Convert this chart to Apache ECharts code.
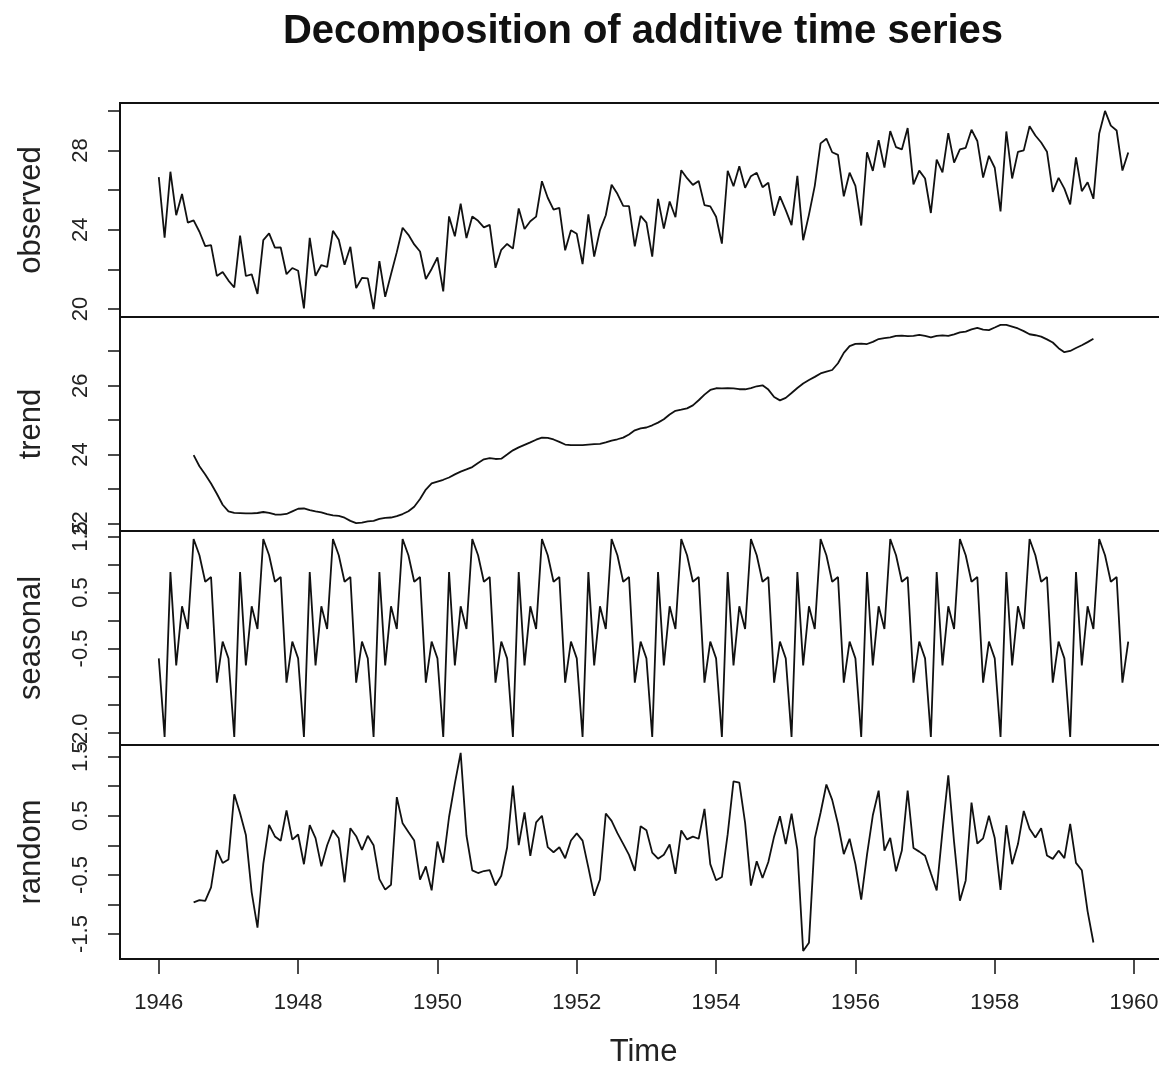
<!DOCTYPE html>
<html>
<head>
<meta charset="utf-8">
<script src="https://cdn.jsdelivr.net/npm/echarts@6/dist/echarts.min.js"></script>
<style>html,body{margin:0;padding:0;background:#fff;overflow:hidden}#c{width:1159px;height:1065px}</style>
</head>
<body>
<div id="c"></div>
<script>
// Monthly series, Jan 1946 .. Dec 1959
const startYear = 1946;
const frequency = 12;

const observed = [
26.663,23.598,26.931,24.740,25.806,24.364,24.477,23.901,23.175,23.227,21.672,21.870,
21.439,21.089,23.709,21.669,21.752,20.761,23.479,23.824,23.105,23.110,21.759,22.073,
21.937,20.035,23.590,21.672,22.222,22.123,23.950,23.504,22.238,23.142,21.059,21.573,
21.548,20.000,22.424,20.615,21.761,22.874,24.104,23.748,23.262,22.907,21.519,22.025,
22.604,20.894,24.677,23.673,25.320,23.583,24.671,24.454,24.122,24.252,22.084,22.991,
23.287,23.049,25.076,24.037,24.430,24.667,26.451,25.618,25.014,25.110,22.964,23.981,
23.798,22.270,24.775,22.646,23.988,24.737,26.276,25.816,25.210,25.199,23.162,24.707,
24.364,22.644,25.565,24.062,25.431,24.635,27.009,26.606,26.268,26.462,25.246,25.180,
24.657,23.304,26.982,26.199,27.210,26.122,26.706,26.878,26.152,26.379,24.712,25.688,
24.990,24.239,26.721,23.475,24.767,26.219,28.361,28.599,27.914,27.784,25.693,26.881,
26.217,24.218,27.914,26.975,28.527,27.139,28.982,28.169,28.056,29.136,26.291,26.987,
26.589,24.848,27.543,26.896,28.878,27.390,28.065,28.141,29.048,28.484,26.634,27.735,
27.132,24.924,28.963,26.589,27.931,28.009,29.229,28.759,28.405,27.945,25.912,26.619,
26.076,25.286,27.660,25.951,26.398,25.565,28.865,30.000,29.261,29.012,26.992,27.897
];

const trend = [
null,null,null,null,null,null,23.984,23.662,23.423,23.161,22.864,22.545,
22.354,22.309,22.303,22.295,22.294,22.306,22.335,22.312,22.263,22.258,22.278,22.354,
22.430,22.437,22.387,22.352,22.325,22.275,22.238,22.220,22.170,22.077,22.014,22.026,
22.064,22.080,22.133,22.166,22.175,22.213,22.276,22.358,22.489,22.710,22.986,23.163,
23.217,23.270,23.335,23.427,23.506,23.570,23.639,23.757,23.864,23.895,23.873,23.882,
24.001,24.124,24.209,24.282,24.355,24.432,24.495,24.484,24.439,24.368,24.292,24.276,
24.272,24.273,24.289,24.301,24.313,24.352,24.406,24.445,24.493,24.585,24.704,24.760,
24.786,24.850,24.927,25.024,25.163,25.270,25.302,25.341,25.428,25.576,25.739,25.875,
25.924,25.923,25.930,25.921,25.896,25.895,25.930,25.982,26.011,25.886,25.671,25.573,
25.646,25.787,25.932,26.064,26.163,26.254,26.355,26.405,26.454,26.649,26.952,27.147,
27.211,27.219,27.207,27.269,27.351,27.380,27.400,27.442,27.452,27.434,27.445,27.470,
27.442,27.403,27.443,27.457,27.444,27.490,27.544,27.569,27.632,27.678,27.626,27.612,
27.686,27.761,27.760,27.710,27.658,27.581,27.491,27.462,27.423,27.342,27.251,27.086,
26.969,27.005,27.093,27.173,27.262,27.360,null,null,null,null,null,null
];

const seasonal = [
-0.677,-2.083,0.863,-0.802,0.252,-0.153,1.456,1.165,0.692,0.775,-1.110,-0.377,
-0.677,-2.083,0.863,-0.802,0.252,-0.153,1.456,1.165,0.692,0.775,-1.110,-0.377,
-0.677,-2.083,0.863,-0.802,0.252,-0.153,1.456,1.165,0.692,0.775,-1.110,-0.377,
-0.677,-2.083,0.863,-0.802,0.252,-0.153,1.456,1.165,0.692,0.775,-1.110,-0.377,
-0.677,-2.083,0.863,-0.802,0.252,-0.153,1.456,1.165,0.692,0.775,-1.110,-0.377,
-0.677,-2.083,0.863,-0.802,0.252,-0.153,1.456,1.165,0.692,0.775,-1.110,-0.377,
-0.677,-2.083,0.863,-0.802,0.252,-0.153,1.456,1.165,0.692,0.775,-1.110,-0.377,
-0.677,-2.083,0.863,-0.802,0.252,-0.153,1.456,1.165,0.692,0.775,-1.110,-0.377,
-0.677,-2.083,0.863,-0.802,0.252,-0.153,1.456,1.165,0.692,0.775,-1.110,-0.377,
-0.677,-2.083,0.863,-0.802,0.252,-0.153,1.456,1.165,0.692,0.775,-1.110,-0.377,
-0.677,-2.083,0.863,-0.802,0.252,-0.153,1.456,1.165,0.692,0.775,-1.110,-0.377,
-0.677,-2.083,0.863,-0.802,0.252,-0.153,1.456,1.165,0.692,0.775,-1.110,-0.377,
-0.677,-2.083,0.863,-0.802,0.252,-0.153,1.456,1.165,0.692,0.775,-1.110,-0.377,
-0.677,-2.083,0.863,-0.802,0.252,-0.153,1.456,1.165,0.692,0.775,-1.110,-0.377
];

const random = [
null,null,null,null,null,null,-0.963,-0.926,-0.940,-0.709,-0.082,-0.298,
-0.238,0.863,0.543,0.176,-0.794,-1.392,-0.312,0.347,0.150,0.077,0.591,0.096,
0.184,-0.319,0.340,0.122,-0.355,0.001,0.256,0.119,-0.624,0.290,0.155,-0.076,
0.161,0.003,-0.572,-0.749,-0.666,0.814,0.372,0.225,0.081,-0.578,-0.357,-0.761,
0.064,-0.293,0.479,1.048,1.562,0.166,-0.424,-0.468,-0.434,-0.418,-0.679,-0.514,
-0.037,1.008,0.004,0.557,-0.177,0.388,0.500,-0.031,-0.117,-0.033,-0.218,0.082,
0.203,0.080,-0.377,-0.853,-0.577,0.538,0.414,0.206,0.025,-0.161,-0.432,0.324,
0.255,-0.123,-0.225,-0.160,0.016,-0.482,0.251,0.100,0.148,0.111,0.617,-0.318,
-0.590,-0.536,0.189,1.080,1.062,0.380,-0.680,-0.269,-0.551,-0.282,0.151,0.492,
0.021,0.535,-0.074,-1.787,-1.648,0.118,0.550,1.029,0.768,0.360,-0.149,0.111,
-0.317,-0.918,-0.156,0.508,0.924,-0.088,0.126,-0.438,-0.088,0.927,-0.044,-0.106,
-0.176,-0.472,-0.763,0.241,1.182,0.053,-0.935,-0.593,0.724,0.031,0.118,0.500,
0.123,-0.754,0.340,-0.319,0.021,0.581,0.282,0.132,0.290,-0.172,-0.229,-0.090,
-0.216,0.364,-0.296,-0.420,-1.116,-1.642,null,null,null,null,null,null
];

// axis ticks / labels
const xTicks = [1946,1948,1950,1952,1954,1956,1958,1960];
const xRange = [1945.443, 1960.473];
const panels = [
  {name:'observed', data:observed, range:[19.6,30.4], ticks:[20,22,24,26,28,30], labels:[20,24,28], dec:0},
  {name:'trend', data:trend, range:[21.784,27.991], ticks:[22,23,24,25,26,27], labels:[22,24,26], dec:0},
  {name:'seasonal', data:seasonal, range:[-2.225,1.598], ticks:[-2,-1.5,-1,-0.5,0,0.5,1,1.5], labels:[-2,-0.5,0.5,1.5], dec:1},
  {name:'random', data:random, range:[-1.921,1.696], ticks:[-1.5,-1,-0.5,0,0.5,1,1.5], labels:[-1.5,-0.5,0.5,1.5], dec:1}
];

const FONT = 'Liberation Sans, Arial, sans-serif';
const panelTops = [103, 317, 531, 745];
const panelH = 214;

const grids = [], xAxes = [], yAxes = [], series = [];
panels.forEach((p, i) => {
  grids.push({left:120, width:1047, top:panelTops[i], height:panelH, show:true,
    outerBoundsMode:'none', containLabel:false,
    borderColor:'#111', borderWidth:2, backgroundColor:'transparent'});
  const last = i === panels.length - 1;
  xAxes.push({
    type:'value', gridIndex:i, min:xRange[0], max:xRange[1],
    show:last, position:'bottom',
    axisLine:{show:false, onZero:false},
    splitLine:{show:false},
    axisTick:{show:true, customValues:xTicks, length:15, lineStyle:{color:'#111', width:1.5}},
    axisLabel:{show:true, customValues:xTicks, margin:33, fontSize:22, color:'#222', fontFamily:FONT,
      formatter: v => String(Math.round(v))},
    name: last ? 'Time' : '',
    nameLocation:'middle', nameGap:78,
    nameTextStyle:{fontSize:31, color:'#222', fontFamily:FONT}
  });
  yAxes.push({
    type:'value', gridIndex:i, min:p.range[0], max:p.range[1],
    axisLine:{show:false, onZero:false},
    splitLine:{show:false},
    axisTick:{show:true, customValues:p.ticks, length:12, lineStyle:{color:'#111', width:1.5}},
    axisLabel:{show:true, customValues:p.labels, rotate:90, margin:28, fontSize:22, color:'#222', fontFamily:FONT,
      formatter: v => Number(v).toFixed(p.dec)},
    name:p.name, nameLocation:'middle', nameGap:73, nameRotate:90,
    nameTextStyle:{fontSize:31, color:'#222', fontFamily:FONT}
  });
  series.push({
    type:'line', xAxisIndex:i, yAxisIndex:i, showSymbol:false, symbol:'none',
    connectNulls:false, silent:true,
    lineStyle:{color:'#111', width:1.8},
    data:p.data.map((v, k) => [startYear + k / frequency, v === null ? '-' : v])
  });
});

const chart = echarts.init(document.getElementById('c'), null, {renderer:'canvas'});
chart.setOption({
  animation:false,
  backgroundColor:'#fff',
  title:{text:'Decomposition of additive time series', left:643, top:12, padding:0, textAlign:'center',
    textStyle:{fontSize:40, fontWeight:'bold', color:'#111', fontFamily:FONT}},
  grid:grids, xAxis:xAxes, yAxis:yAxes, series:series
});
</script>
</body>
</html>
